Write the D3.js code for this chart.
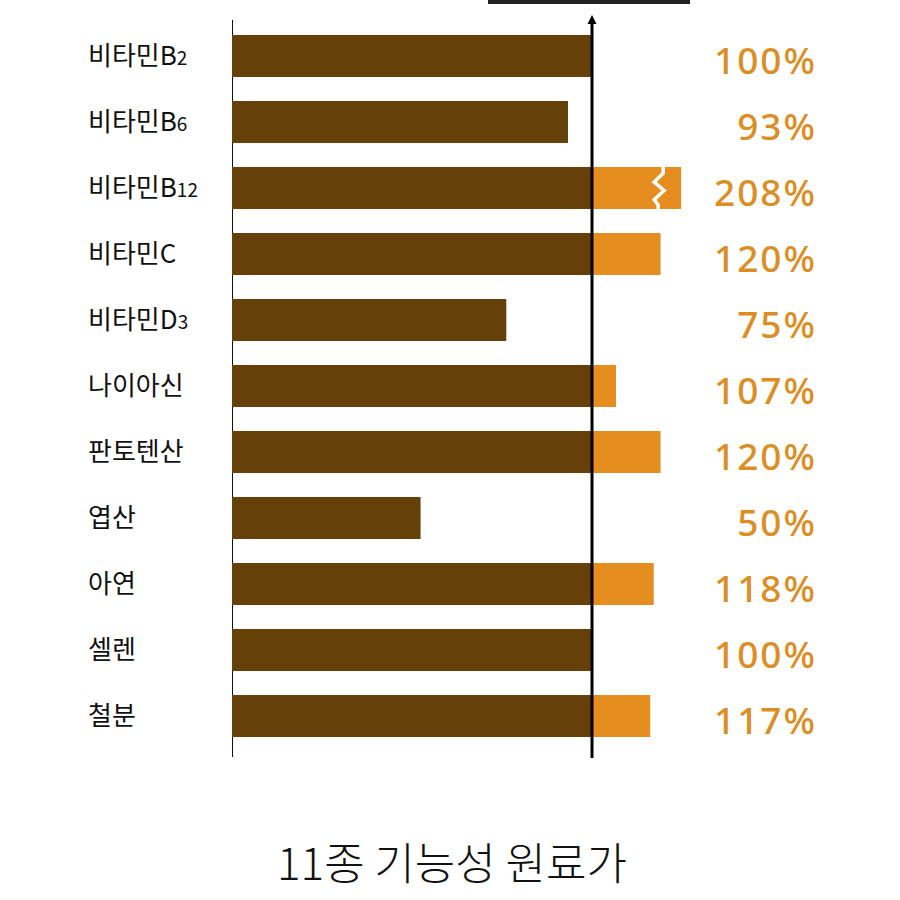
<!DOCTYPE html>
<html><head><meta charset="utf-8">
<script src="https://cdn.jsdelivr.net/npm/d3@7"></script>
<style>body{margin:0;background:#fff}svg{display:block}</style>
</head><body><svg id="c" width="900" height="900"></svg>
<script>
const names = ["비타민B", "비타민B", "비타민B", "비타민C", "비타민D", "나이아신", "판토텐산", "엽산", "아연", "셀렌", "철분"];
const subs = ["2", "6", "12", "", "3", "", "", "", "", "", ""];
const values = [100, 93, 208, 120, 75, 107, 120, 50, 118, 100, 117];
const labels = ["100%", "93%", "208%", "120%", "75%", "107%", "120%", "50%", "118%", "100%", "117%"];
const title = "11종 기능성 원료가";
const cap = 126;

const svg = d3.select("#c");
const x = d3.scaleLinear().domain([-5, 100]).range([232, 592]);
const y = d3.scaleBand().domain(d3.range(names.length)).range([35, 737]).paddingInner(0.364).paddingOuter(0);
const brown = "#654008", orange = "#E58E1F", lab = "#DC8E25";

// top dark bar
svg.append("rect").attr("x", 488).attr("y", 0).attr("width", 202).attr("height", 4).attr("fill", "#222");

// left axis
svg.append("line").attr("x1", x(-5)+0.5).attr("x2", x(-5)+0.5).attr("y1", 20).attr("y2", 757).attr("stroke", "#111").attr("stroke-width", 1);

const rows = svg.append("g").selectAll("g").data(values).join("g");
rows.append("rect")
  .attr("x", x(-5)).attr("height", y.bandwidth())
  .attr("width", d => x(Math.min(d,100)) - x(-5)).attr("fill", brown);
rows.filter(d => d > 100).append("rect")
  .attr("x", x(100)).attr("height", y.bandwidth())
  .attr("width", d => x(Math.min(d, cap)) - x(100)).attr("fill", orange);
rows.each(function(d,i){ d3.select(this).selectAll("rect").attr("y", y(i)); });

// break mark on capped bar
values.forEach((v,i) => {
  if (v > cap) {
    const bx = x(cap) - 22, t = y(i), h = y.bandwidth();
    const pts = [[bx+4,t],[bx+4,t+h*0.15],[bx-5,t+h*0.36],[bx+5,t+h*0.56],[bx-5,t+h*0.78],[bx-1,t+h*0.9],[bx-1,t+h]];
    svg.append("path").attr("d", d3.line()(pts)).attr("fill","none").attr("stroke","#fff").attr("stroke-width",3.5).attr("stroke-linejoin","miter");
  }
});

// category labels
const tl = svg.append("g").selectAll("text").data(names).join("text")
  .attr("x", 88).attr("y", (d,i)=>y(i)+y.bandwidth()/2+9)
  .attr("font-family", "'Noto Sans CJK KR', 'Noto Sans', sans-serif").attr("font-size", 26).attr("fill", "#111");
tl.append("tspan").text(d=>d);
tl.append("tspan").attr("font-size", 19).text((d,i)=>subs[i]);

// value labels
svg.append("g").selectAll("text").data(labels).join("text")
  .attr("x", 817).attr("y", (d,i)=>y(i)+y.bandwidth()/2+18).attr("text-anchor","end")
  .attr("font-family", "'Noto Sans', 'Open Sans', sans-serif").attr("font-weight", 500)
  .attr("font-size", 37).attr("letter-spacing", 2).attr("fill", lab).text(d=>d);

// 100% reference line with arrow
svg.append("line").attr("x1", x(100)).attr("x2", x(100)).attr("y1", 22).attr("y2", 758).attr("stroke", "#000").attr("stroke-width", 3);
svg.append("path").attr("d", `M${x(100)-4.5},24 L${x(100)},15 L${x(100)+4.5},24 Z`).attr("fill", "#000");

// title
svg.append("text").attr("x", 452).attr("y", 880).attr("text-anchor","middle")
  .attr("font-family", "'Noto Sans CJK KR', sans-serif").attr("font-weight", 300)
  .attr("font-size", 44).attr("fill", "#111").text(title);
</script></body></html>
